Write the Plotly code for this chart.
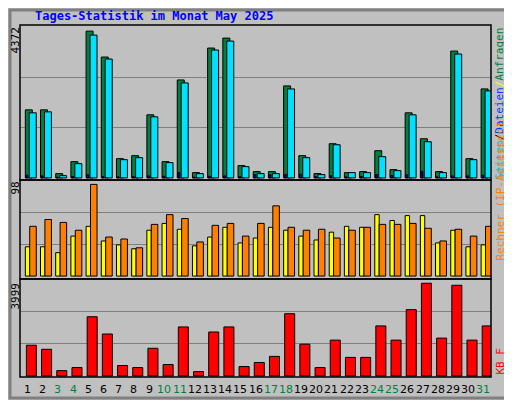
import plotly.graph_objects as go
from plotly.subplots import make_subplots

days = list(range(1, 32))
weekend = [3, 4, 10, 11, 17, 18, 24, 25, 31]

hits = [1972, 1972, 125, 471, 4252, 3502, 558, 645, 1828, 471, 2838, 154, 3762, 4050, 356, 183,
        183, 2665, 645, 125, 991, 154, 183, 789, 240, 1886, 1135, 183, 3675, 558, 2578]
files = [1886, 1914, 67, 414, 4137, 3444, 529, 587, 1770, 443, 2752, 125, 3704, 3964, 327, 125,
         125, 2578, 587, 96, 962, 154, 154, 616, 212, 1828, 1049, 154, 3589, 529, 2521]
pages = [80, 60, 20, 40, 90, 40, 30, 40, 60, 50, 160, 20, 50, 60, 40, 90,
         90, 100, 110, 40, 60, 30, 40, 100, 70, 90, 190, 30, 60, 60, 80]
visits = [30, 30, 24, 41, 51, 36, 32, 28, 47, 54, 48, 31, 40, 50, 34, 39,
          50, 47, 41, 37, 45, 51, 50, 63, 57, 62, 62, 34, 47, 30, 32]
sites = [51, 58, 55, 47, 94, 40, 38, 29, 53, 63, 59, 35, 52, 54, 41, 54,
         72, 50, 47, 48, 39, 47, 50, 53, 53, 54, 49, 36, 48, 41, 51]
kbytes = [1277, 1108, 224, 351, 2455, 1740, 435, 351, 1150, 477, 2034, 182, 1824, 2034, 393, 561,
          814, 2582, 1319, 351, 1487, 772, 772, 2076, 1487, 2750, 3844, 1571, 3760, 1487, 2076]

max_top, max_mid, max_bot = 4372, 98, 3999

# window pixel -> paper coords (page body has an 8px margin)
def py(p):
    return 1 - (p - 25) / 352

def px(p):
    return (p - 20) / 471

fig = make_subplots(rows=3, cols=1, shared_xaxes=True, vertical_spacing=0,
                    row_heights=[155, 99, 98])
ol = dict(color="black", width=1)
fig.add_bar(x=days, y=hits, offset=-0.15, width=0.46, marker=dict(color="#008040", line=ol), row=1, col=1)
fig.add_bar(x=days, y=files, offset=0.11, width=0.46, marker=dict(color="#00E0FF", line=ol), row=1, col=1)
fig.add_bar(x=days, y=pages, offset=-0.1, width=0.12, marker=dict(color="#0000FF", line=ol), row=1, col=1)
fig.add_bar(x=days, y=visits, offset=-0.15, width=0.29, marker=dict(color="#FFFF00", line=ol), row=2, col=1)
fig.add_bar(x=days, y=sites, offset=0.14, width=0.43, marker=dict(color="#FF8000", line=ol), row=2, col=1)
fig.add_bar(x=days, y=kbytes, offset=-0.08, width=0.66, marker=dict(color="#FF0000", line=ol), row=3, col=1)

fig.update_layout(
    width=504, height=392, barmode="overlay", showlegend=False,
    paper_bgcolor="#C0C0C0", plot_bgcolor="#C0C0C0",
    margin=dict(l=12, r=21, t=17, b=23),
    font=dict(family="DejaVu Sans Mono", size=11, color="black"),
)
fig.update_xaxes(range=[0.5, 31.5], showgrid=False, zeroline=False, showticklabels=False, ticks="")
fig.update_yaxes(zeroline=False, showticklabels=False, ticks="", gridcolor="#808080", gridwidth=1)
fig.update_yaxes(range=[-60, 4430], tickvals=[max_top / 3, 2 * max_top / 3], row=1, col=1)
fig.update_yaxes(range=[-3, 98.5], tickvals=[max_mid / 3, 2 * max_mid / 3], row=2, col=1)
fig.update_yaxes(range=[-40, 4020], tickvals=[max_bot / 3, 2 * max_bot / 3], row=3, col=1)

# panel borders and outer frame
shapes = []
for a, b in [(25, 180), (180, 279), (279, 377)]:
    shapes.append(dict(type="rect", xref="paper", yref="paper", x0=0, x1=1, y0=py(b), y1=py(a),
                       line=dict(color="black", width=1.5)))
shapes.append(dict(type="rect", xref="paper", yref="paper", x0=px(10), x1=px(510), y0=py(398), y1=py(10),
                   line=dict(color="#808080", width=3)))
fig.update_layout(shapes=shapes)

ann = [dict(text="<b>Tages-Statistik im Monat May 2025</b>", x=px(33), y=py(16), xanchor="left",
            yanchor="middle", font=dict(color="#0000FF", size=12))]
for lbl, top in [(max_top, 25), (max_mid, 180), (max_bot, 281)]:
    ann.append(dict(text=str(lbl), textangle=-90, x=px(15), y=py(top), xanchor="center", yanchor="top",
                    font=dict(size=11)))
for d in days:
    ann.append(dict(text=str(d), x=(d - 0.5) / 31, y=py(389), xanchor="center", yanchor="middle",
                    font=dict(size=11, color="#008040" if d in weekend else "black", family="DejaVu Sans")))
ann.append(dict(text="<span style='color:#00C0E0'>Seiten</span>/<span style='color:#0040FF'>Dateien</span>"
                     "<span style='color:#FFFF00'>/</span><span style='color:#008040'>Anfragen</span>",
                textangle=-90, x=px(500), y=py(26), xanchor="center", yanchor="top", font=dict(size=11)))
ann.append(dict(text="<span style='color:#FF8000'>Rechner (IP-Adressen)</span>", textangle=-90,
                x=px(500), y=py(263), xanchor="center", yanchor="bottom", font=dict(size=11)))
ann.append(dict(text="<span style='color:#FF0000'>KB F</span>", textangle=-90,
                x=px(500), y=py(377), xanchor="center", yanchor="bottom", font=dict(size=11)))
for a in ann:
    a.update(xref="paper", yref="paper", showarrow=False)
fig.update_layout(annotations=ann)

fig.write_html("out.html")
